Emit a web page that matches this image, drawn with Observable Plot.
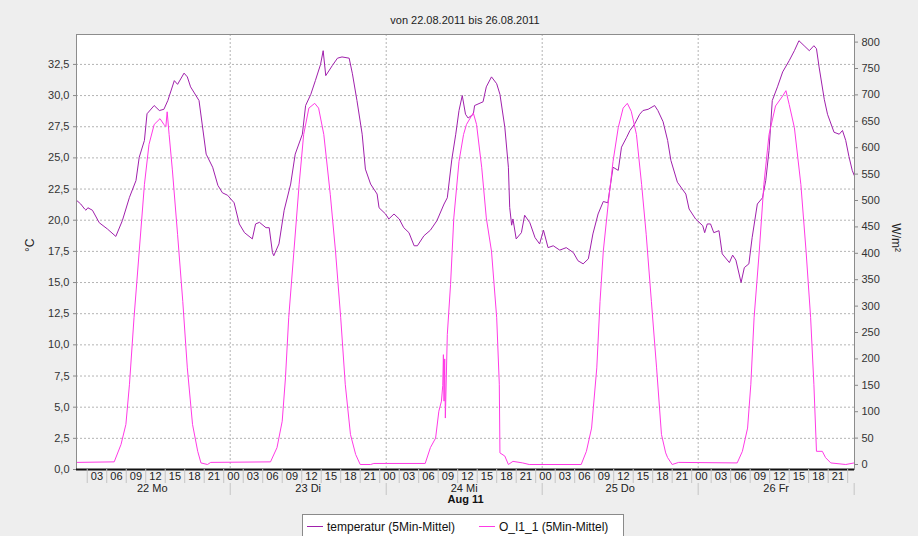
<!DOCTYPE html>
<html>
<head>
<meta charset="utf-8">
<script src="https://cdn.jsdelivr.net/npm/d3@7"></script>
<script src="https://cdn.jsdelivr.net/npm/@observablehq/plot@0.6"></script>
<style>
  html, body { margin: 0; padding: 0; background: #eeeeee; overflow: hidden; width: 918px; height: 536px; }
  #chart { position: absolute; left: 0; top: 0; }
  #subtitle { position: absolute; left: 0; top: 14px; width: 930px; text-align: center;
    font: 11px "Liberation Sans", Arial, sans-serif; color: #222; }
  #legend { position: absolute; left: 302px; top: 514px; width: 320px; height: 30px;
    background: #ffffff; border: 1px solid #8a8a8a; font: 12px "Liberation Sans", Arial, sans-serif; color: #111; }
  #legend .item { position: absolute; top: 5px; white-space: nowrap; }
  #legend .sw { display: inline-block; width: 16px; height: 0; border-top: 1px solid; vertical-align: middle; margin-right: 4px; position: relative; top: -1px; }
</style>
</head>
<body>
<div id="subtitle">von 22.08.2011 bis 26.08.2011</div>
<div id="chart"></div>
<div id="legend"></div>
<script>
// ---------------- data ----------------
// hours since 22.08.2011 00:00
const tempHours = [0.35,1.0,1.6,1.8,2.1,2.8,3.85,5.1,6.4,7.4,8.5,9.5,10.0,10.8,11.2,12.3,13.1,13.8,14.4,15.4,15.9,16.9,17.4,17.9,19.2,20.3,21.3,22.1,22.8,23.6,
  24.6,25.4,26.2,27.4,27.9,28.5,29.5,30.0,30.5,30.7,31.5,32.3,33.3,34.0,35.1,35.6,36.4,37.1,37.9,38.3,38.7,39.7,40.5,41.2,42.3,42.8,43.5,44.3,44.8,45.6,46.6,46.9,47.9,
  48.4,49.2,50.0,50.7,51.5,52.3,52.8,53.8,54.8,55.8,56.9,57.4,58.1,58.7,59.2,59.7,60.2,60.6,61.4,61.6,62.9,63.4,64.2,65.0,65.5,66.25,66.8,67.0,67.3,67.5,68.0,68.8,69.3,70.1,70.9,71.6,
  72.2,72.9,73.7,74.7,75.7,76.8,77.5,78.3,79.1,79.8,80.6,81.4,82.1,82.9,83.7,84.2,85.0,85.5,86.2,87.0,87.5,88.3,89.3,89.8,90.6,91.3,91.8,92.8,94.1,94.6,95.6,
  96.7,97.0,97.4,97.9,98.4,99.2,99.7,100.8,101.3,101.8,102.6,103.1,103.8,104.3,105.1,105.9,106.4,106.9,107.4,108.2,109.0,110.0,110.8,111.5,112.3,113.1,113.8,114.2,114.6,115.4,115.9,116.9,117.7,118.2,118.7,119.2,119.7,120.0];
const tempValues = [21.6,21.3,20.9,20.8,21.0,20.8,19.8,19.3,18.7,19.96,21.84,23.18,25.05,26.4,28.54,29.2,28.8,28.9,29.6,31.2,30.9,31.8,31.5,30.7,29.6,25.3,24.25,22.8,22.2,22.0,
  21.4,19.7,19.0,18.5,19.7,19.83,19.4,19.4,17.4,17.15,18.1,20.8,22.9,25.3,26.9,29.2,30.1,31.2,32.5,33.6,31.6,32.4,33.0,33.1,33.0,31.75,29.6,26.9,24.1,22.9,22.1,21.0,20.5,
  20.1,20.5,20.1,19.4,19.0,17.95,17.95,18.75,19.2,19.96,21.3,21.8,24.9,26.9,28.8,30.0,28.5,28.2,28.5,29.2,29.5,30.7,31.5,30.95,30.1,27.46,24.25,21.03,19.6,20.1,18.5,19.0,20.4,19.8,18.6,18.1,
  19.2,17.8,17.95,17.6,17.8,17.4,16.75,16.5,16.9,18.9,20.5,21.5,21.4,24.25,24.0,25.86,26.66,27.2,27.7,28.5,28.8,28.9,29.2,28.8,27.9,26.4,24.8,23.05,22.1,20.9,20.1,
  19.56,19.0,19.7,19.7,19.0,19.16,17.3,16.6,17.2,16.8,15.0,16.2,16.5,18.6,21.3,21.8,23.2,25.6,29.6,30.7,31.9,32.8,33.6,34.4,34.0,33.6,34.0,33.76,32.3,29.7,28.5,27.06,26.9,27.2,26.4,25.1,24.0,23.6];

const irrHours = [0.35,6.15,7.2,7.95,8.5,9.2,10.0,10.8,11.5,12.3,13.2,13.8,14.1,14.3,14.6,15.1,15.9,16.7,17.4,18.2,19.0,19.5,20.5,21.0,
  30.2,31.2,32.0,32.5,33.0,33.8,34.6,35.3,36.1,37.0,37.6,38.4,39.4,40.2,41.0,41.7,42.5,43.3,44.0,45.6,46.1,
  54.0,54.8,55.6,56.1,56.5,56.7,56.8,56.9,57.0,57.1,57.4,57.9,58.4,59.2,59.9,60.35,61.4,61.9,62.7,63.4,64.2,65.0,65.4,65.5,66.25,66.8,67.5,69.0,70.0,
  78.0,78.8,79.6,80.4,80.9,81.4,82.2,82.9,83.7,84.45,85.1,85.7,86.5,87.3,88.0,88.8,89.6,90.35,91.0,91.3,92.0,93.0,
  102.0,102.8,103.6,104.1,104.6,105.4,106.1,106.9,107.9,109.0,109.5,110.0,110.8,111.8,112.6,113.3,113.8,114.2,115.1,115.6,116.4,118.7,120.0];
const irrValues = [4,5,38,76,152,278,404,530,606,644,655,644,640,668,625,558,436,309,183,76,25,3,0,4,
  5,32,82,164,278,404,530,625,675,684,675,625,511,404,278,152,57,19,0,0,2,
  2,32,50,101,120,150,208,120,200,88,246,341,467,574,625,644,666,644,562,467,404,278,152,22,16,0,6,3,0,
  0,25,69,183,309,404,499,574,638,675,684,669,625,530,436,309,183,57,22,13,0,4,
  3,25,69,152,278,404,530,625,679,698,708,682,638,530,404,278,152,25,25,13,3,0,3];

const leftTicks = [0,2.5,5,7.5,10,12.5,15,17.5,20,22.5,25,27.5,30,32.5];
const rightTicks = [0,50,100,150,200,250,300,350,400,450,500,550,600,650,700,750,800];
const hourLabels = ["00","03","06","09","12","15","18","21"];
const dayLabels = ["22 Mo","23 Di","24 Mi","25 Do","26 Fr"];
const monthLabel = "Aug 11";
const seriesNames = ["temperatur (5Min-Mittel)", "O_I1_1 (5Min-Mittel)"];

// ---------------- setup ----------------
const TEMP_COLOR = "#a020ac";
const IRR_COLOR = "#ff3ae6";
const base = Date.UTC(2011, 7, 22);
const toDate = h => new Date(base + h * 3600e3);
const xStart = 0.35, xEnd = 120.05;

// right axis (W/m²) aligned onto the °C scale
const wAtZeroT = 0.4, tPerW = 33.89 / 800;
const w2t = w => wAtZeroT + w * tPerW;
const t2w = t => (t - wAtZeroT) / tPerW;

const W = 918, H = 508, mT = 34, mB = 39, mL = 76, mR = 64;
const FH = H - mT - mB;

const temp = tempHours.map((h, i) => ({t: toDate(h), v: tempValues[i]}));
const irr = irrHours.map((h, i) => ({t: toDate(h), v: w2t(irrValues[i])}));

const hourLab = [];
dayLabels.forEach((d, di) => hourLabels.forEach((l, li) => {
  const h = di * 24 + li * 3 + 0.5;
  if (h - 1.5 >= xStart && h + 1.5 <= xEnd) hourLab.push({h, l});
}));
const seps = [];
for (let di = 0; di < dayLabels.length; di++) for (let li = 0; li < 8; li++) {
  const h = di * 24 + li * 3 + 2;
  if (h > xStart && h < xEnd) seps.push(h);
}
const midnights = dayLabels.map((d, i) => (i + 1) * 24).filter(h => h <= xEnd);
const gridMidnights = midnights.filter(h => h < xEnd - 1);
const dayLab = dayLabels.map((d, i) => ({h: i * 24 + 12, l: d}));

const font = "'Liberation Sans', Arial, sans-serif";

const chart = Plot.plot({
  width: W, height: H,
  marginTop: mT, marginBottom: mB, marginLeft: mL, marginRight: mR,
  style: {background: "transparent", fontFamily: font, fontSize: "11px", color: "#333"},
  x: {type: "utc", domain: [toDate(xStart), toDate(xEnd)], axis: null},
  y: {domain: [0, 34.9], axis: null},
  marks: [
    Plot.frame({fill: "white", stroke: null}),
    Plot.gridY(leftTicks, {stroke: "#b4b4b4", strokeOpacity: 1, strokeDasharray: "2,2"}),
    Plot.gridX(gridMidnights.map(toDate), {stroke: "#b4b4b4", strokeOpacity: 1, strokeDasharray: "2,2"}),
    Plot.line(temp, {x: "t", y: "v", stroke: TEMP_COLOR, strokeWidth: 1}),
    Plot.line(irr, {x: "t", y: "v", stroke: IRR_COLOR, strokeWidth: 1}),
    Plot.frame({stroke: "#8c8c8c"}),
    Plot.ruleY([0], {stroke: "#111", strokeWidth: 2}),
    Plot.axisY(leftTicks, {anchor: "left", tickSize: 3, tickPadding: 4, stroke: "#888",
      tickFormat: d => d.toFixed(1).replace(".", ","), label: null, fill: "#333"}),
    Plot.axisY(rightTicks.map(w2t), {anchor: "right", tickSize: 3, tickPadding: 4, stroke: "#888",
      tickFormat: t => String(Math.round(t2w(t))), label: null, fill: "#333"}),
    Plot.text(["°C"], {text: d => d, frameAnchor: "left", dx: -46, rotate: -90, fontSize: 12, fill: "#222"}),
    Plot.text(["W/m²"], {text: d => d, frameAnchor: "right", dx: 41, rotate: 90, fontSize: 12, fill: "#222"}),
    // time axis: hour row
    Plot.tickX(seps, {x: toDate, insetTop: FH - 14, dy: 14, stroke: "#c4c4c4"}),
    Plot.text(hourLab, {x: d => toDate(d.h), text: "l", frameAnchor: "bottom", lineAnchor: "top", dy: 3, fill: "#222"}),
    // day row
    Plot.tickX(midnights, {x: toDate, insetTop: FH - 12, dy: 26, stroke: "#c4c4c4"}),
    Plot.text(dayLab, {x: d => toDate(d.h), text: "l", frameAnchor: "bottom", lineAnchor: "top", dy: 15, fill: "#222"}),
    // month row
    Plot.text([monthLabel], {x: () => toDate((xStart + xEnd) / 2), text: d => d, frameAnchor: "bottom", lineAnchor: "top", dy: 26, fontWeight: "bold", fill: "#111"})
  ]
});
document.getElementById("chart").appendChild(chart);

// legend
const legend = document.getElementById("legend");
[[seriesNames[0], TEMP_COLOR, 4], [seriesNames[1], IRR_COLOR, 176]].forEach(([name, color, left]) => {
  const it = document.createElement("div");
  it.className = "item";
  it.style.left = left + "px";
  const sw = document.createElement("span");
  sw.className = "sw";
  sw.style.borderTopColor = color;
  it.appendChild(sw);
  it.appendChild(document.createTextNode(name));
  legend.appendChild(it);
});
</script>
</body>
</html>
